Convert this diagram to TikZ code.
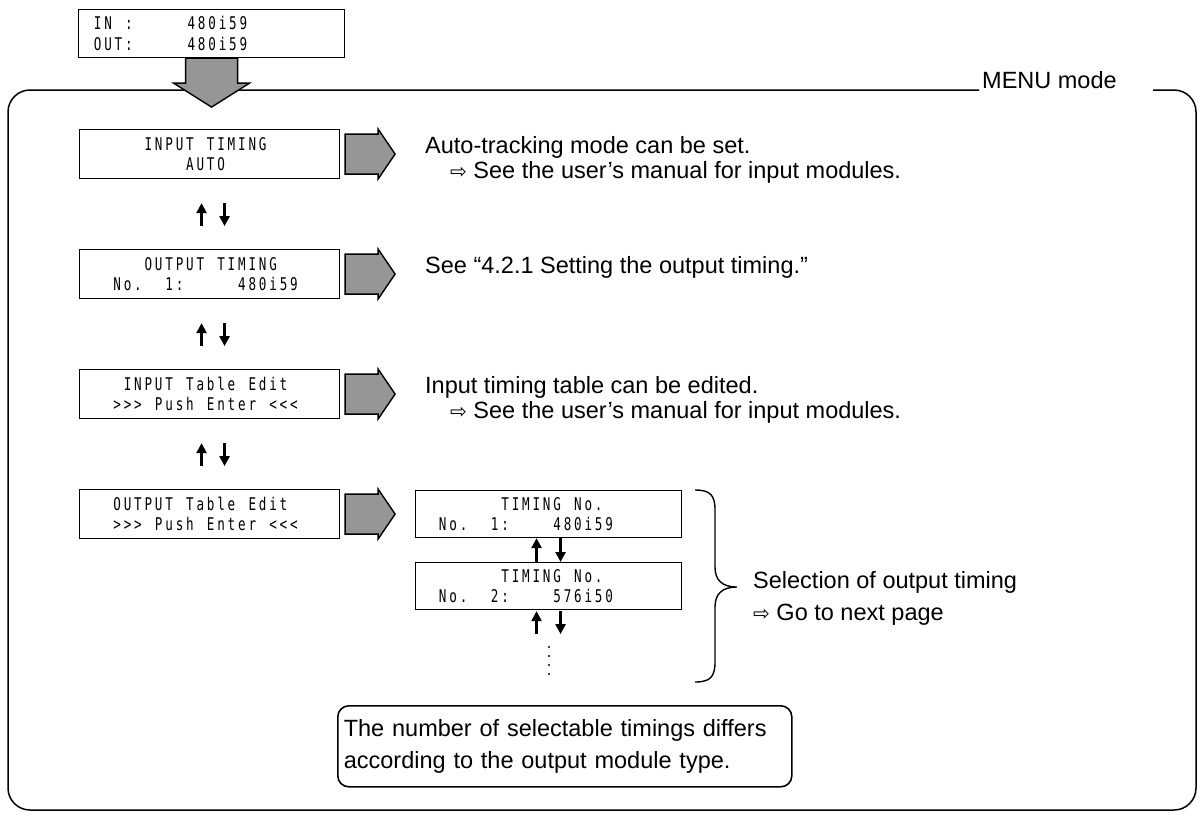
\documentclass[tikz,border=0pt]{standalone}
\usepackage{fontspec}
\setmainfont{Liberation Sans}
\newfontfamily\lcdfont{DejaVu Sans Mono}[FakeStretch=0.72]
\newfontfamily\symfont{DejaVu Sans}
\usetikzlibrary{arrows.meta,calc}
\definecolor{arrowgray}{RGB}{150,150,150}

% one character cell of the LCD display
\newcommand\lcdcell[1]{\makebox[10.4pt][c]{#1}}
\def\lcdscan#1{\ifx#1\relax\else\lcdcell{#1}\expandafter\lcdscan\fi}
\newcommand\lcdline[1]{\lcdscan#1\relax}
% two display lines: left margin, box width, line 1, line 2
\newcommand\lcdrows[4]{\makebox[#2][l]{\hspace*{#1}\lcdline{#3}}\\\makebox[#2][l]{\hspace*{#1}\lcdline{#4}}}
\newcommand\goto{{\symfont\fontsize{20}{22}\selectfont ⇨}}

\tikzset{
  lcdbox/.style={draw, line width=1.1pt, inner sep=0pt, anchor=north west, align=left,
    minimum height=49pt, font=\lcdfont\fontsize{17.5}{20.5}\selectfont},
  desc/.style={anchor=base west, inner sep=0pt, font=\fontsize{23.5}{28}\selectfont},
  updn/.style={line width=2.4pt, -{Triangle[length=10pt,width=10pt]}},
  framepath/.style={line width=1.5pt, rounded corners=22pt},
  pics/gray right/.style={code={
    \draw[line width=1.4pt, fill=arrowgray, line join=miter]
      (0,-20) -- (33,-20) -- (33,-25) -- (50,0) -- (33,25) -- (33,20) -- (0,20) -- cycle;}},
  pics/gray down/.style={code={
    \draw[line width=1.4pt, fill=arrowgray, line join=miter]
      (-26,0) -- (26,0) -- (26,25) -- (38,25) -- (0,49) -- (-38,25) -- (-26,25) -- cycle;}},
}

\begin{document}
\begin{tikzpicture}[x=1pt, y=-1pt]
\useasboundingbox (0,0) rectangle (1204,815);

% outer frame of the menu mode
\node[desc] (menu) at (982,88) {MENU mode};
\draw[framepath] (979,90) -- (8,90) -- (8,810) -- (1196,810) -- (1196,90) -- (1153,90);

% current display
\node[lcdbox, minimum height=48pt] (top) at (78,9) {\lcdrows{14pt}{266pt}{IN~:~~~~~480i59}{OUT:~~~~~480i59}};
\pic at (top.south) {gray down};

% menu displays
\node[lcdbox] (b1) at (79,129) {\lcdrows{22pt}{260pt}{~~~~INPUT~TIMING}{~~~~~~~~AUTO}};
\node[lcdbox] (b2) at (79,249) {\lcdrows{22pt}{260pt}{~~~~OUTPUT~TIMING}{~No.~~1:~~~~~480i59}};
\node[lcdbox] (b3) at (79,369) {\lcdrows{22pt}{260pt}{~~INPUT~Table~Edit}{~>>>~Push~Enter~<<<}};
\node[lcdbox] (b4) at (79,489) {\lcdrows{22pt}{260pt}{~OUTPUT~Table~Edit}{~>>>~Push~Enter~<<<}};

\foreach \b in {b1,b2,b3,b4} { \pic at ($(\b.east)+(5,0)$) {gray right}; }

% up / down keys between the menu displays
\foreach \u in {b1,b2,b3} {
  \draw[updn] ($(\u.south)+(-8,47)$) -- ($(\u.south)+(-8,24)$);
  \draw[updn] ($(\u.south)+(15,24)$) -- ($(\u.south)+(15,47)$);
}

% descriptions
\node[desc] (d1a) at (425,153) {Auto-tracking mode can be set.};
\node[desc] (d1b) at (450,178) {\goto\ See the user’s manual for input modules.};
\node[desc] (d2) at (425,273) {See “4.2.1 Setting the output timing.”};
\node[desc] (d3a) at (425,393) {Input timing table can be edited.};
\node[desc] (d3b) at (450,418) {\goto\ See the user’s manual for input modules.};

% timing selection displays
\node[lcdbox, minimum height=47pt] (t1) at (415,490) {\lcdrows{22pt}{266pt}{~~~~~~TIMING~No.}{No.~~1:~~~~480i59}};
\node[lcdbox, minimum height=47pt] (t2) at (415,562) {\lcdrows{22pt}{266pt}{~~~~~~TIMING~No.}{No.~~2:~~~~576i50}};
\draw[updn] ($(t2.north)+(-12,0)$) -- ($(t1.south)+(-12,0)$);
\draw[updn] ($(t1.south)+(12,0)$) -- ($(t2.north)+(12,0)$);
\draw[updn] ($(t2.south)+(-12,24)$) -- ($(t2.south)+(-12,1)$);
\draw[updn] ($(t2.south)+(12,1)$) -- ($(t2.south)+(12,24)$);
\foreach \yy in {647,656,665,674} { \fill (549,\yy) circle (1.1); }

% brace grouping the timing displays
\draw[line width=1.4pt] (695,490) .. controls (710,490) and (715,495) .. (715,510)
  -- (715,567) .. controls (715,580) and (722,587) .. (737,587)
  .. controls (722,587) and (715,594) .. (715,607)
  -- (715,662) .. controls (715,677) and (710,682) .. (695,682);
\node[desc] (sel1) at (753,588) {Selection of output timing};
\node[desc] (sel2) at (753,620) {\goto\ Go to next page};

% note
\node[draw, line width=1.6pt, rounded corners=11pt, anchor=north west, align=left,
  text width=442pt, inner xsep=6pt, inner ysep=0pt, minimum height=81pt,
  font=\fontsize{23.5}{32}\selectfont] (note) at (337,705)
  {The number of selectable timings differs\\according to the output module type.};
\end{tikzpicture}
\end{document}
